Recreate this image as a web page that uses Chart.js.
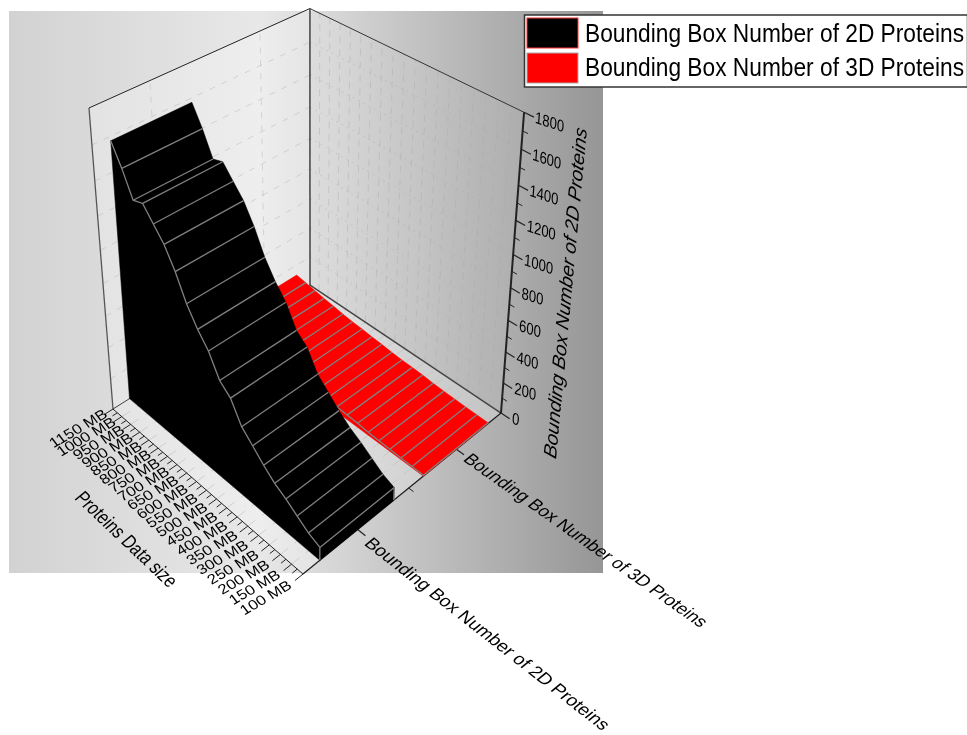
<!DOCTYPE html>
<html>
<head>
<meta charset="utf-8">
<title>Bounding boxes</title>
<script src="https://cdn.jsdelivr.net/npm/chart.js@4"></script>
<style>
  html, body { margin: 0; padding: 0; background: #fff; }
  canvas { display: block; }
</style>
</head>
<body>
<canvas id="chart" width="967" height="735"></canvas>
<script>
// Data
const categories = ['1150 MB','1000 MB','950 MB','900 MB','850 MB','800 MB','750 MB','700 MB','650 MB','600 MB','550 MB','500 MB','450 MB','400 MB','350 MB','300 MB','250 MB','200 MB','150 MB','100 MB'];
const boxes2D = [1575,1457,1315,1335,1258,1182,1068,925,820,738,610,554,432,368,302,246,206,158,111,81];
const boxes3D = [130,119,106,95,86,74,66,61,53,47,39,34,31,27,20,16,13,10,8,6];
const zTicks = [0,200,400,600,800,1000,1200,1400,1600,1800];
const zMinorStep = 100;
const zMax = 1800;
const series2D = 'Bounding Box Number of 2D Proteins';
const series3D = 'Bounding Box Number of 3D Proteins';
const categoryTitle = 'Proteins Data size';

// Perspective box: u runs along the categories, v across the series, w up the value axis
const g = -0.1283, h = 0.1277, a = 151.1, b = 236.6, c = 113, d = 91.4, e = -87.6, f = 409;
const k = -0.1082, vpx = 311, vpy = 2890;
function project(u, v, w) {
  const W = g*u + h*v + 1 + w*k;
  return { x: (a*u + b*v + c + w*k*vpx) / W, y: (d*u + e*v + f + w*k*vpy) / W };
}

const catU = i => i / (categories.length - 1);
const layers = [];

function addLine(points, color, width, dash) {
  layers.push({ data: points, showLine: true, fill: false, borderColor: color, borderWidth: width || 1,
    borderDash: dash || [], pointRadius: 0, tension: 0, clip: false });
}
function addPoly(points, color) {
  layers.push({ data: points.concat([points[0]]), showLine: true, fill: 'shape', backgroundColor: color,
    borderColor: color, borderWidth: 0.5, pointRadius: 0, tension: 0, clip: false });
}

// Walls and floor
addPoly([project(0,0,0), project(0,1,0), project(0,1,1), project(0,0,1)], 'rgba(255,255,255,0.25)');
addPoly([project(0,1,0), project(1,1,0), project(1,1,1), project(0,1,1)], 'rgba(255,255,255,0.05)');
addPoly([project(0,0,0), project(1,0,0), project(1,1,0), project(0,1,0)], 'rgba(255,255,255,0.25)');

// Grid lines
const gridColor = 'rgba(165,165,165,0.38)';
const floorGrid = 'rgba(185,185,185,0.55)';
zTicks.slice(1, -1).forEach(t => {
  const w = t / zMax;
  addLine([project(0,0,w), project(0,1,w)], gridColor, 1, [6,7]);
  addLine([project(0,1,w), project(1,1,w)], gridColor, 1, [2,4]);
});
categories.forEach((_, i) => {
  const u = catU(i);
  addLine([project(u,1,0), project(u,1,1)], gridColor, 1, [7,6]);
  addLine([project(u,0,0), project(u,1,0)], floorGrid, 1, [10,8]);
});
[0.25, 0.75].forEach(v => {
  addLine([project(0,v,0), project(0,v,1)], gridColor, 1, [6,7]);
  addLine([project(0,v,0), project(1,v,0)], floorGrid, 1, [10,8]);
});

// Box edges
addLine([project(0,0,0), project(0,0,1)], '#555', 1.3);
addLine([project(0,0,1), project(0,1,1)], '#222', 1);
addLine([project(0,1,1), project(1,1,1)], '#333', 1);
addLine([project(0,1,0), project(0,1,1)], '#444', 1.5);
addLine([project(0,1,0), project(1,1,0)], '#444', 1.5);
addLine([project(0,0,0), project(0,1,0)], '#444', 1);

// Axis lines and ticks
addLine([project(0,0,0), project(1,0,0)], '#222', 1);
addLine([project(1,0,0), project(1,1,0)], '#222', 1.3);
addLine([project(1,1,0), project(1,1,1)], '#222', 2);
categories.forEach((_, i) => {
  const u = catU(i);
  addLine([project(u,0,0), project(u,-0.035,0)], '#222', 1);
  if (i < categories.length - 1) {
    const mid = (u + catU(i + 1)) / 2;
    addLine([project(mid,0,0), project(mid,-0.022,0)], '#222', 1);
  }
});
zTicks.forEach(t => {
  addLine([project(1,1,t/zMax), project(1.04,1,t/zMax)], '#222', 1.2);
  if (t < zMax) addLine([project(1,1,(t+zMinorStep)/zMax), project(1.022,1,(t+zMinorStep)/zMax)], '#222', 1);
});
addLine([project(1,0.25,0), project(1.035,0.25,0)], '#222', 1.2);
addLine([project(1,0.5,0), project(1.022,0.5,0)], '#222', 1);
addLine([project(1,0.75,0), project(1.035,0.75,0)], '#222', 1.2);

// One ribbon wall per series, the far one first
function addWall(values, vNear, vFar, color, lineColor) {
  const near = values.map((y, i) => project(catU(i), vNear, y / zMax));
  const far = values.map((y, i) => project(catU(i), vFar, y / zMax));
  const last = values.length - 1;
  addPoly(near.concat([project(1,vNear,0), project(0,vNear,0)]), color);
  addPoly(near.concat(far.slice().reverse()), color);
  addPoly([near[last], far[last], project(1,vFar,0), project(1,vNear,0)], color);
  for (let i = 1; i <= last; i++) addLine([near[i], far[i]], lineColor, 1.3);
  addLine(near, lineColor, 1.3);
  addLine([near[last], project(1,vNear,0)], lineColor, 1.3);
  addLine([far[last], project(1,vFar,0)], lineColor, 1.3);
}
addWall(boxes3D, 0.575, 0.925, '#ff0000', '#808080');
addWall(boxes2D, 0.075, 0.425, '#000000', '#808080');

layers.forEach((ds, i) => { ds.order = layers.length - i; });

// Stretched text: baseline from (x0,y0) to (x1,y1), letters leaning along up
function fitText(ctx, str, x0, y0, x1, y1, up, font, baseline) {
  ctx.save();
  ctx.font = font;
  ctx.textAlign = 'left';
  ctx.textBaseline = baseline || 'alphabetic';
  const width = ctx.measureText(str).width;
  ctx.transform((x1-x0)/width, (y1-y0)/width, -up[0], -up[1], x0, y0);
  ctx.fillStyle = '#000';
  ctx.fillText(str, 0, 0);
  ctx.restore();
}
function unit(p, q) {
  const dx = q.x - p.x, dy = q.y - p.y, len = Math.hypot(dx, dy);
  return [dx/len, dy/len];
}

const backdrop = {
  id: 'backdrop',
  beforeDraw(chart) {
    const ctx = chart.ctx;
    const grad = ctx.createLinearGradient(9, 0, 603, 0);
    grad.addColorStop(0, '#d2d2d2');
    grad.addColorStop(0.42, '#e8e8e8');
    grad.addColorStop(1, '#969696');
    ctx.fillStyle = grad;
    ctx.fillRect(9, 11, 594, 562);
  }
};

const labels = {
  id: 'labels',
  afterDraw(chart) {
    const ctx = chart.ctx;
    const font = 'px "Liberation Sans"';

    // Category tick labels lie on the floor
    const catAngle = -30 * Math.PI / 180;
    categories.forEach((name, i) => {
      const u = catU(i);
      const end = project(u, -(0.03 + 0.025*u), 0);
      ctx.save();
      ctx.font = '14.5' + font;
      const len = ctx.measureText(name).width * 1.12;
      ctx.restore();
      fitText(ctx, name, end.x - Math.cos(catAngle)*len, end.y - Math.sin(catAngle)*len, end.x, end.y, [-0.6,-0.8], '14.5' + font, 'middle');
    });

    // Value tick labels
    zTicks.forEach(t => {
      const p = project(1, 1, t / zMax);
      const str = String(t);
      const len = str.length * 7.6;
      fitText(ctx, str, p.x + 11, p.y + 6, p.x + 11 + len*0.95, p.y + 6 + len*0.31, [0.07,-1], '16.5' + font, 'middle');
    });

    // Axis titles
    const upFloorV = unit(project(1,0,0), project(1,1,0));
    fitText(ctx, series2D, 367, 541, 606, 728, upFloorV, '18' + font, 'middle');
    fitText(ctx, series3D, 466, 457, 704, 625, upFloorV, '18' + font, 'middle');
    fitText(ctx, categoryTitle, 78, 495, 173, 585, upFloorV, '20' + font, 'middle');
    fitText(ctx, series2D, 551, 458, 582, 128, [-0.95,-0.3], 'italic 19' + font, 'middle');

    // Legend
    ctx.fillStyle = '#fff';
    ctx.fillRect(524, 15, 443, 72);
    ctx.strokeStyle = '#333';
    ctx.lineWidth = 1.5;
    ctx.strokeRect(524.5, 15, 443, 72);
    ctx.fillStyle = '#000';
    ctx.fillRect(527, 18, 51, 30);
    ctx.strokeStyle = '#ff3030';
    ctx.lineWidth = 1;
    ctx.strokeRect(527, 18, 51, 30);
    ctx.fillStyle = '#ff0000';
    ctx.fillRect(527, 53, 51, 30);
    ctx.strokeStyle = '#aaa';
    ctx.strokeRect(527, 53, 51, 30);
    fitText(ctx, series2D, 585, 42, 964, 42, [0,-1], '26' + font);
    fitText(ctx, series3D, 585, 76, 964, 76, [0,-1], '26' + font);
  }
};

new Chart(document.getElementById('chart'), {
  type: 'scatter',
  data: { datasets: layers },
  options: {
    responsive: false,
    animation: false,
    layout: { padding: 0 },
    plugins: { legend: { display: false }, tooltip: { enabled: false } },
    scales: {
      x: { type: 'linear', min: 0, max: 967, display: false },
      y: { type: 'linear', min: 0, max: 735, reverse: true, display: false }
    }
  },
  plugins: [backdrop, labels]
});
</script>
</body>
</html>
